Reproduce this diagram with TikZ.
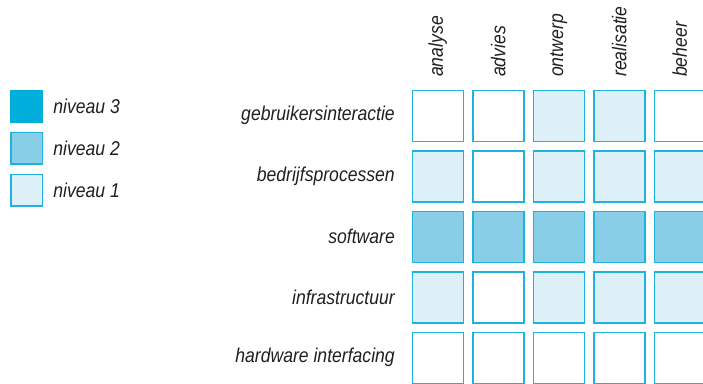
\documentclass[tikz,border=0pt]{standalone}
\usepackage{fontspec}
\newfontfamily\lblfont{Liberation Sans}[FakeStretch=0.88]
\usetikzlibrary{positioning}
\definecolor{levelline}{RGB}{30,178,220}
\definecolor{levelthree}{RGB}{0,174,219}
\definecolor{leveltwo}{RGB}{135,206,230}
\definecolor{levelone}{RGB}{221,240,247}
\definecolor{labeltext}{RGB}{35,31,32}

\begin{document}
\begin{tikzpicture}[
        x=1pt, y=-1pt,
        node distance=9pt,
        txt/.style={font=\lblfont\itshape\fontsize{20}{22}\selectfont, text=labeltext, inner sep=0pt},
        cell/.style={rectangle, draw=levelline, line width=1.5pt, minimum size=51pt, inner sep=0pt},
        legbox/.style={rectangle, draw=levelline, line width=1.5pt, minimum size=31.5pt, inner sep=0pt},
        lvl0/.style={fill=white},
        lvl1/.style={fill=levelone},
        lvl2/.style={fill=leveltwo},
        lvl3/.style={fill=levelthree, draw=levelthree}
    ]
        \useasboundingbox (0,0) rectangle (703,383);
        \clip (0,0) rectangle (703,383);

        % legend
        \node[legbox, lvl3] (leg3) at (26.7,106) {};
        \node[legbox, lvl2, below=of leg3] (leg2) {};
        \node[legbox, lvl1, below=of leg2] (leg1) {};
        \node[txt, right=10pt of leg3] (leg3txt) {niveau 3};
        \node[txt, right=10pt of leg2] (leg2txt) {niveau 2};
        \node[txt, right=10pt of leg1] (leg1txt) {niveau 1};

        % column headers
        \foreach \col/\name in {0/analyse, 1/advies, 2/ontwerp, 3/realisatie, 4/beheer}
            \node[txt, rotate=90, anchor=west] (head-\col) at (437.8+60.5*\col, 77) {\name};

        % rows with levels per column
        \foreach \row/\name/\levels in {
            0/gebruikersinteractie/{0,0,1,1,0},
            1/bedrijfsprocessen/{1,0,1,1,1},
            2/software/{2,2,2,2,2},
            3/infrastructuur/{1,0,1,1,1},
            4/hardware interfacing/{0,0,0,0,0}} {
            \node[txt, anchor=east] (rowlbl-\row) at (395, 115.8+60.5*\row) {\name};
            \foreach \lvl [count=\c from 0] in \levels
                \node[cell, lvl\lvl] (cell-\row-\c) at (437.8+60.5*\c, 115.8+60.5*\row) {};
        }
    \end{tikzpicture}
\end{document}
